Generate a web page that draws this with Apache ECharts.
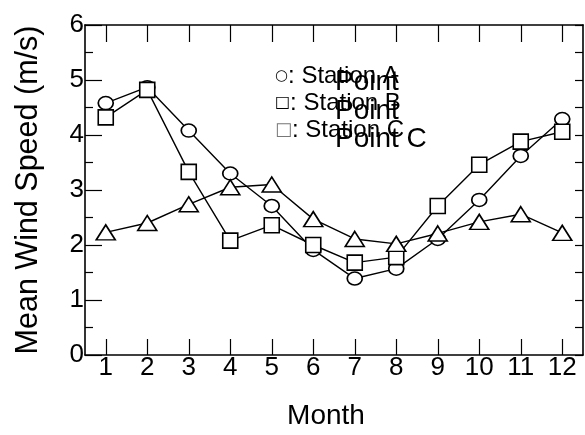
<!DOCTYPE html>
<html>
<head>
<meta charset="utf-8">
<script src="https://cdn.jsdelivr.net/npm/echarts@6/dist/echarts.min.js"></script>
<style>html,body{margin:0;padding:0;background:#fff}#c{width:585px;height:435px}</style>
</head>
<body>
<div id="c"></div>
<script>
var months = ['1','2','3','4','5','6','7','8','9','10','11','12'];
var stationA = [4.58, 4.87, 4.08, 3.30, 2.71, 1.91, 1.39, 1.57, 2.11, 2.82, 3.62, 4.29];
var stationB = [4.32, 4.82, 3.33, 2.08, 2.36, 2.00, 1.68, 1.78, 2.71, 3.46, 3.88, 4.06];
var stationC = [2.23, 2.40, 2.74, 3.05, 3.10, 2.47, 2.11, 2.02, 2.21, 2.42, 2.56, 2.22];
var legendMarks = ['○', '□', '□'];
var legendNames = [': Station A', ': Station B', ': Station C'];
var pointTexts = ['Point', 'Point', 'Point C'];
var xTitle = 'Month';
var yTitle = 'Mean Wind Speed (m/s)';

var FONT = 'Liberation Sans, Arial, sans-serif';
var chart = echarts.init(document.getElementById('c'), null, {renderer: 'canvas'});
function lineSeries(name, data, symbol, size) {
  return {
    name: name, type: 'line', data: data, symbol: symbol, symbolSize: size,
    showAllSymbol: true,
    lineStyle: {color: '#000', width: 1.4},
    itemStyle: {color: '#fff', borderColor: '#000', borderWidth: 1.6},
    emphasis: {disabled: true}, animation: false
  };
}
function legendItem(i, top, markSize, markColor) {
  return {
    type: 'text', left: 275, top: top,
    style: {
      text: '{m|' + legendMarks[i] + '}{t|' + legendNames[i] + '}',
      rich: {
        m: {fontSize: markSize, fontFamily: 'DejaVu Sans', fill: markColor, color: markColor},
        t: {fontSize: 24, fontFamily: FONT, fill: '#000', color: '#000'}
      }
    }
  };
}
var axisLine = {show: true, onZero: false, lineStyle: {color: '#000', width: 1.6}};
chart.setOption({
  animation: false,
  backgroundColor: '#fff',
  grid: {left: 85, right: 2, top: 25, bottom: 78, containLabel: false},
  xAxis: [{
    type: 'category', data: months, position: 'bottom', boundaryGap: true,
    axisLine: axisLine,
    axisTick: {show: true, inside: true, length: 16, alignWithLabel: true, lineStyle: {color: '#000', width: 1.2}},
    axisLabel: {color: '#000', fontSize: 26, fontFamily: FONT, margin: 0},
    splitLine: {show: false},
    name: xTitle, nameLocation: 'middle', nameGap: 47,
    nameTextStyle: {color: '#000', fontSize: 28, fontFamily: FONT, padding: [0, 16, 0, 0]}
  }, {
    type: 'category', data: months, position: 'top', boundaryGap: true,
    axisLine: axisLine,
    axisTick: {show: true, inside: true, length: 17, alignWithLabel: true, lineStyle: {color: '#000', width: 1.2}},
    axisLabel: {show: false}, splitLine: {show: false}
  }],
  yAxis: [{
    type: 'value', min: 0, max: 6, interval: 1, position: 'left',
    axisLine: axisLine,
    axisTick: {show: true, inside: true, length: 17, lineStyle: {color: '#000', width: 1.2}},
    minorTick: {show: true, splitNumber: 2, length: 8, lineStyle: {color: '#000', width: 1.2}},
    axisLabel: {color: '#000', fontSize: 26, fontFamily: FONT, margin: 1},
    splitLine: {show: false}, minorSplitLine: {show: false},
    name: yTitle, nameLocation: 'middle', nameGap: 41, nameRotate: 90,
    nameTextStyle: {color: '#000', fontSize: 30.5, fontFamily: FONT}
  }, {
    type: 'value', min: 0, max: 6, interval: 0.5, position: 'right',
    axisLine: axisLine,
    axisTick: {show: true, inside: true, length: 8, lineStyle: {color: '#000', width: 1.2}},
    axisLabel: {show: false}, splitLine: {show: false}
  }],
  series: [
    lineSeries('Station A', stationA, 'circle', [15, 13]),
    lineSeries('Station B', stationB, 'rect', [15, 15]),
    lineSeries('Station C', stationC, 'triangle', [19, 15])
  ],
  graphic: [
    legendItem(0, 64, 15, '#000'),
    legendItem(1, 91, 16, '#000'),
    legendItem(2, 118, 18, '#777'),
    {type: 'text', left: 335, top: 68, style: {text: pointTexts[0], font: '28px ' + FONT, fill: '#000'}},
    {type: 'text', left: 335, top: 97, style: {text: pointTexts[1], font: '28px ' + FONT, fill: '#000'}},
    {type: 'text', left: 335, top: 125, style: {text: pointTexts[2], font: '28px ' + FONT, fill: '#000'}}
  ]
});
</script>
</body>
</html>
